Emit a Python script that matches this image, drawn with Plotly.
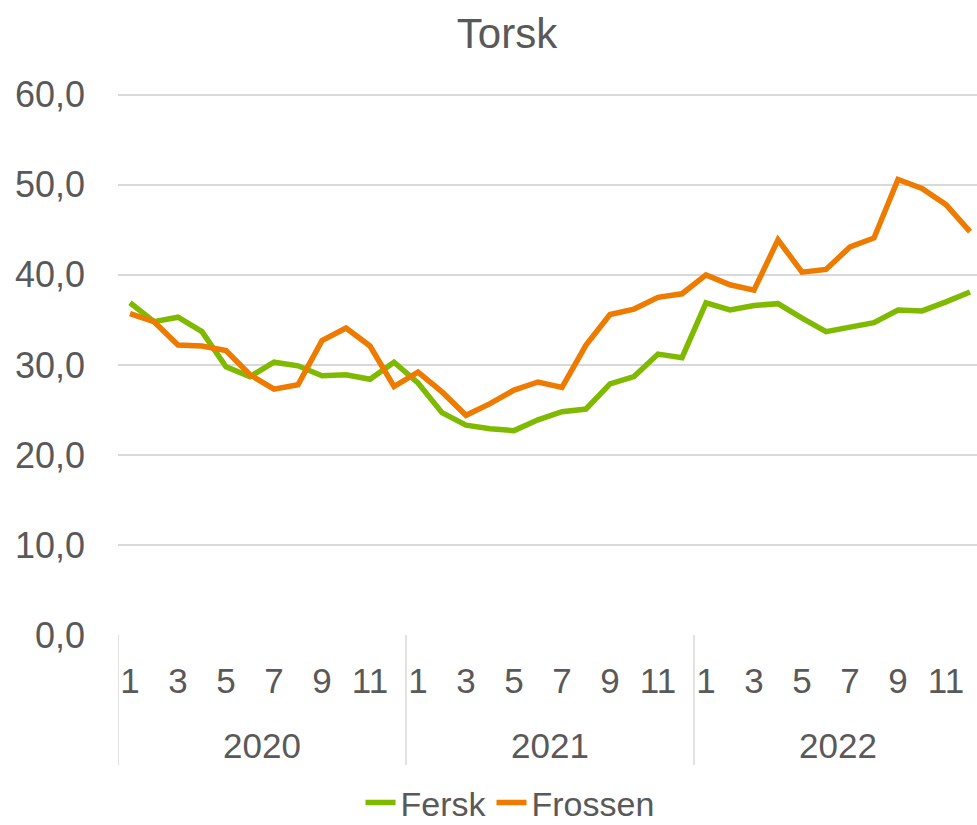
import plotly.graph_objects as go

# Monthly prices, Jan 2020 - Dec 2022
years = ["2020", "2021", "2022"]
months = list(range(1, 13))
fersk = [
    36.9, 34.8, 35.3, 33.7, 29.8, 28.7, 30.3, 29.9, 28.8, 28.9, 28.4, 30.3,
    28.0, 24.7, 23.3, 22.9, 22.7, 23.9, 24.8, 25.1, 27.9, 28.7, 31.2, 30.8,
    36.9, 36.1, 36.6, 36.8, 35.2, 33.7, 34.2, 34.7, 36.1, 36.0, 37.0, 38.1,
]
frossen = [
    35.7, 34.8, 32.2, 32.1, 31.6, 28.9, 27.3, 27.8, 32.7, 34.1, 32.1, 27.6,
    29.2, 27.0, 24.4, 25.7, 27.2, 28.1, 27.5, 32.2, 35.6, 36.2, 37.5, 37.9,
    40.0, 38.9, 38.3, 43.9, 40.3, 40.6, 43.1, 44.1, 50.6, 49.6, 47.8, 44.8,
]
y_ticks = [0, 10, 20, 30, 40, 50, 60]

GREEN = "#7FBA00"
ORANGE = "#EE7B00"
TEXT = "#595959"
GRID = "#D9D9D9"
FONT = "Liberation Sans, Arial, sans-serif"

n = len(years) * len(months)
x = list(range(1, n + 1))
tickvals = [i for i in x if months[(i - 1) % 12] % 2 == 1]
ticktext = [str(months[(i - 1) % 12]) for i in tickvals]

fig = go.Figure()
fig.add_trace(go.Scatter(x=x, y=fersk, mode="lines", name="Fersk",
                         line=dict(color=GREEN, width=5.5)))
fig.add_trace(go.Scatter(x=x, y=frossen, mode="lines", name="Frossen",
                         line=dict(color=ORANGE, width=5.5)))

# plot area: y=0 at 635px, 9px per unit; a little headroom so the 60 gridline shows
plot_h = 9 * 60.2
plot_w = 977 - 118
bottom = -(765 - 635) / plot_h
for k, yr in enumerate(years):
    fig.add_shape(type="line", xref="x", yref="paper",
                  x0=k * 12 + 0.5, x1=k * 12 + 0.5, y0=0, y1=bottom,
                  line=dict(color=GRID, width=1.5))
    fig.add_annotation(x=k * 12 + 6.5, xref="x", y=-(745 - 635) / plot_h,
                       yref="paper", text=yr, showarrow=False,
                       yanchor="middle", font=dict(size=35, color=TEXT))

fig.update_layout(
    width=977,
    height=825,
    paper_bgcolor="white",
    plot_bgcolor="white",
    font=dict(family=FONT, color=TEXT, size=35),
    margin=dict(l=118, r=0, t=round(635 - plot_h), b=190),
    title=dict(text="Torsk", x=507 / 977, xref="container", xanchor="center",
               y=1 - 33 / 825, yref="container", yanchor="middle",
               font=dict(size=42, color=TEXT)),
    # 24px per month; the last year's block runs just past the right edge
    xaxis=dict(range=[0.5, 0.5 + plot_w / 24], tickvals=tickvals,
               ticktext=ticktext, showgrid=False, zeroline=False,
               showline=False, ticks="", ticklabelstandoff=22,
               tickfont=dict(size=35, color=TEXT)),
    yaxis=dict(range=[0, 60.2], tickvals=y_ticks,
               ticktext=[f"{v:.1f}".replace(".", ",") for v in y_ticks],
               showgrid=True, gridcolor=GRID, gridwidth=1.5, zeroline=False,
               showline=False, ticks="", ticklabelstandoff=32,
               tickfont=dict(size=36, color=TEXT)),
    legend=dict(orientation="h", xref="container", x=510 / 977,
                xanchor="center", yref="container", y=22 / 825,
                yanchor="middle", font=dict(size=34, color=TEXT),
                itemwidth=30, tracegroupgap=0),
    showlegend=True,
)

# page body has a default 8px margin; drop it so the figure fills the window
fig.write_html("out.html",
               config={"displayModeBar": False},
               post_script="document.body.style.margin='0';"
                           "document.body.style.overflow='hidden';")
